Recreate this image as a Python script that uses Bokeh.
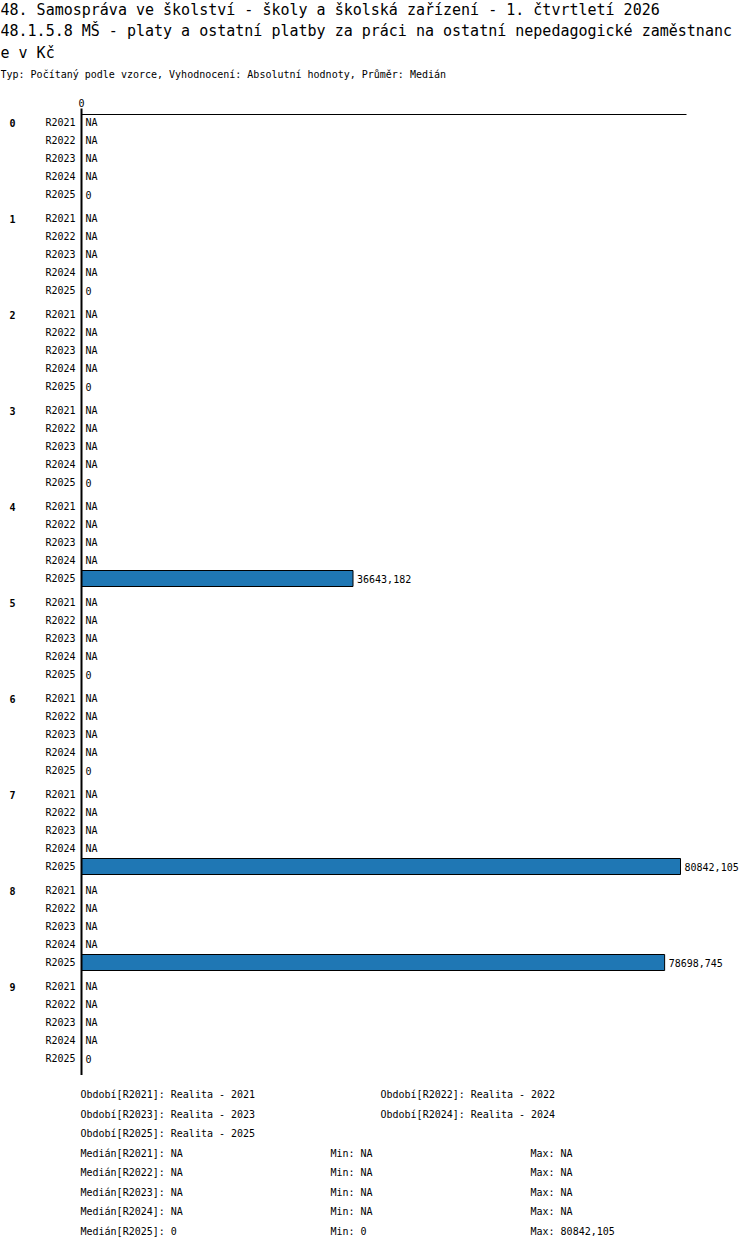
import numpy as np
from bokeh.plotting import figure
from bokeh.models import ColumnDataSource, Range1d
from bokeh.layouts import column
from bokeh.core.properties import value
from bokeh.embed import file_html
from bokeh.resources import INLINE

# ---------------- data ----------------
title_lines = [
    "48. Samospráva ve školství - školy a školská zařízení - 1. čtvrtletí 2026",
    "48.1.5.8 MŠ - platy a ostatní platby za práci na ostatní nepedagogické zaměstnanc",
    "e v Kč",
]
subtitle = "Typ: Počítaný podle vzorce, Vyhodnocení: Absolutní hodnoty, Průměr: Medián"

categories = ["0", "1", "2", "3", "4", "5", "6", "7", "8", "9"]
periods = ["R2021", "R2022", "R2023", "R2024", "R2025"]
period_names = ["Realita - 2021", "Realita - 2022", "Realita - 2023",
                "Realita - 2024", "Realita - 2025"]

vals_r2021 = [None, None, None, None, None, None, None, None, None, None]
vals_r2022 = [None, None, None, None, None, None, None, None, None, None]
vals_r2023 = [None, None, None, None, None, None, None, None, None, None]
vals_r2024 = [None, None, None, None, None, None, None, None, None, None]
vals_r2025 = [0, 0, 0, 0, 36643.182, 0, 0, 80842.105, 78698.745, 0]
series = [vals_r2021, vals_r2022, vals_r2023, vals_r2024, vals_r2025]

tick_values = [0]

# ---------------- helpers ----------------
MONO = value("DejaVu Sans Mono")
W = 742
BAR_COLOR = "#1f77b4"


def fmt(v):
    if v is None:
        return "NA"
    if v == 0:
        return "0"
    s = f"{v:.3f}".rstrip("0").rstrip(".")
    return s.replace(".", ",")


def bare(p):
    p.toolbar_location = None
    p.outline_line_color = None
    p.xgrid.visible = False
    p.ygrid.visible = False
    p.min_border = 0
    p.background_fill_color = "white"
    p.border_fill_color = "white"


# ---------------- title block ----------------
H1 = 85
ft = figure(width=W, height=H1, x_range=Range1d(0, W), y_range=Range1d(H1, 0),
            output_backend="svg", toolbar_location=None,
            x_axis_location=None, y_axis_location=None)
bare(ft)
ft.text(x=[0, 0, 0], y=[9, 30, 52], text=title_lines, text_font=MONO,
        text_font_size="15px", text_baseline="middle", text_color="black")
ft.text(x=[0], y=[74], text=[subtitle], text_font=MONO, text_font_size="10px",
        text_baseline="middle", text_color="black")

# ---------------- chart ----------------
ROW_PX = 18.0
TOP_PX = 28.0
BOT_PX = 8.0
GAP = 6 / ROW_PX          # gap between groups, in row units
n_rows = len(categories) * len(periods) + (len(categories) - 1) * GAP
H2 = int(round(TOP_PX + n_rows * ROW_PX + BOT_PX))

all_vals = [v for s in series for v in s if v is not None]
vmax = max(all_vals)
x_end = vmax * 1.01
LEFT_PX = 81
AXIS_PX = 605
u = x_end / AXIS_PX

fc = figure(width=W, height=H2,
            x_range=Range1d(-LEFT_PX * u, (W - LEFT_PX) * u),
            y_range=Range1d(n_rows + BOT_PX / ROW_PX, -TOP_PX / ROW_PX),
            output_backend="svg", toolbar_location=None,
            x_axis_location=None, y_axis_location=None)
bare(fc)

rows_y, rows_per, rows_val, rows_lab, rows_x = [], [], [], [], []
grp_y = []
for gi, cat in enumerate(categories):
    base = gi * (len(periods) + GAP)
    grp_y.append(base + 0.5)
    for pi, per in enumerate(periods):
        v = series[pi][gi]
        rows_y.append(base + pi + 0.5)
        rows_per.append(per)
        rows_val.append(v)
        rows_lab.append(fmt(v))
        rows_x.append(0 if v is None else v)

# bars
bar_src = ColumnDataSource(dict(
    y=[y for y, v in zip(rows_y, rows_val) if v is not None and v > 0],
    right=[v for v in rows_val if v is not None and v > 0],
))
fc.hbar(y="y", left=0, right="right", height=16 / ROW_PX, source=bar_src,
        fill_color=BAR_COLOR, line_color="black", line_width=1)

# top line and vertical axis
fc.segment(x0=[0], y0=[0.5 - 8 / ROW_PX], x1=[x_end], y1=[0.5 - 8 / ROW_PX],
           line_color="black", line_width=1)
fc.segment(x0=[0], y0=[0.5 - 14 / ROW_PX], x1=[0], y1=[rows_y[-1] + 17 / ROW_PX],
           line_color="black", line_width=2)
fc.text(x=tick_values, y=[0.5 - 19.5 / ROW_PX] * len(tick_values),
        text=[fmt(t) for t in tick_values], text_font=MONO, text_font_size="10px",
        text_align="center", text_baseline="middle", text_color="black")

# labels
src = ColumnDataSource(dict(y=rows_y, per=rows_per, lab=rows_lab, x=rows_x))
fc.text(x=0, y="y", text="per", source=src, x_offset=-6, text_align="right",
        text_baseline="middle", text_font=MONO, text_font_size="10px",
        text_color="black")
fc.text(x="x", y="y", text="lab", source=src, x_offset=4, text_align="left",
        text_baseline="middle", text_font=MONO, text_font_size="10px",
        text_color="black")
fc.text(x=0, y=grp_y, text=categories, x_offset=-72, text_align="left",
        text_baseline="middle", text_font=MONO, text_font_size="10px",
        text_font_style="bold", text_color="black")

# ---------------- legend block ----------------
H3 = 1238 - H1 - H2
fl = figure(width=W, height=H3, x_range=Range1d(0, W), y_range=Range1d(H3, 0),
            output_backend="svg", toolbar_location=None,
            x_axis_location=None, y_axis_location=None)
bare(fl)
L_TOP = 1094 - (H1 + H2)   # centre of first legend line, in px within the block
L_STEP = 19.5
lx, ly, lt = [], [], []
for i, (per, name) in enumerate(zip(periods, period_names)):
    lx.append(80 if i % 2 == 0 else 380)
    ly.append(L_TOP + L_STEP * (i // 2))
    lt.append(f"Období[{per}]: {name}")
n_lines = (len(periods) + 1) // 2
for i, per in enumerate(periods):
    vals = [v for v in series[i] if v is not None]
    if vals:
        med, mn, mx = fmt(float(np.median(vals))), fmt(min(vals)), fmt(max(vals))
    else:
        med = mn = mx = "NA"
    yy = L_TOP + L_STEP * (n_lines + i)
    lx += [80, 330, 530]
    ly += [yy, yy, yy]
    lt += [f"Medián[{per}]: {med}", f"Min: {mn}", f"Max: {mx}"]
fl.text(x=lx, y=ly, text=lt, text_font=MONO, text_font_size="10px",
        text_baseline="middle", text_color="black")

layout = column(ft, fc, fl, spacing=0)
open("out.html", "w").write(file_html(layout, INLINE))
